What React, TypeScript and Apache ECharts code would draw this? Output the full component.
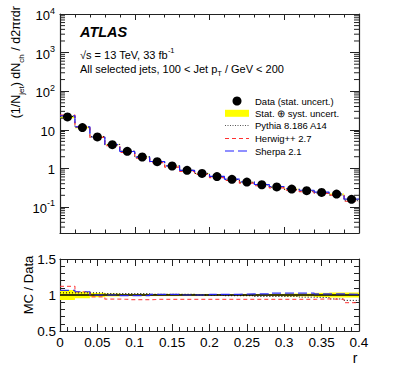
import React, { useEffect, useRef } from "react";
import * as echarts from "echarts";

// ---------- data ----------
const binEdges = [0, 0.02, 0.04, 0.06, 0.08, 0.1, 0.12, 0.14, 0.16, 0.18, 0.2, 0.22, 0.24, 0.26, 0.28, 0.3, 0.32, 0.34, 0.36, 0.38, 0.4];
const dataValues = [21.5, 11.4, 6.5, 4.1, 2.76, 1.97, 1.49, 1.15, 0.89, 0.74, 0.61, 0.52, 0.44, 0.376, 0.33, 0.29, 0.263, 0.238, 0.215, 0.157];
const bandHalfWidth = [0.07, 0.045, 0.03, 0.02, 0.015, 0.015, 0.015, 0.015, 0.015, 0.015, 0.01, 0.01, 0.015, 0.015, 0.015, 0.02, 0.02, 0.03, 0.035, 0.035];
const pythiaRatio = [1.03, 1.03, 1.03, 1.02, 1.02, 1.02, 1.01, 1.01, 1.01, 1.0, 1.0, 0.99, 0.99, 0.98, 0.98, 0.98, 0.97, 0.965, 0.945, 0.925];
const herwigRatio = [1.12, 1.045, 0.975, 0.944, 0.935, 0.935, 0.94, 0.94, 0.94, 0.94, 0.94, 0.94, 0.94, 0.94, 0.94, 0.94, 0.94, 0.945, 0.94, 0.895];
const sherpaRatio = [1.065, 1.045, 1.0, 1.0, 0.99, 0.99, 1.01, 1.01, 1.0, 1.0, 1.01, 1.01, 1.015, 1.015, 1.025, 1.025, 1.028, 1.015, 1.015, 1.01];
const logMinorMultipliers = [2, 3, 4, 5, 6, 7, 8, 9];
const logDecades = [-2, -1, 0, 1, 2, 3];
const xLabels = ["0", "0.05", "0.1", "0.15", "0.2", "0.25", "0.3", "0.35", "0.4"];

const FONT = "Liberation Sans, Arial, Helvetica, sans-serif";
const Y_MIN = 0.0211;
const Y_MAX = 10000;

const centers = dataValues.map((_, i) => (binEdges[i] + binEdges[i + 1]) / 2);

function stepData(vals: number[]) {
  const out: number[][] = [];
  vals.forEach((v, i) => {
    out.push([binEdges[i], v]);
    out.push([binEdges[i + 1], v]);
  });
  return out;
}

const mcTop = (ratio: number[]) => dataValues.map((d, i) => d * ratio[i]);

export default function App() {
  const ref = useRef<HTMLDivElement>(null);
  useEffect(() => {
    if (!ref.current) return;
    const chart = echarts.init(ref.current, undefined, { renderer: "svg" });

    const minorTickVals: number[] = [];
    logDecades.forEach((d) =>
      logMinorMultipliers.forEach((m) => {
        const v = m * Math.pow(10, d);
        if (v > Y_MIN && v < Y_MAX) minorTickVals.push(v);
      })
    );

    const axisLineStyle = { color: "#222", width: 1.2 };
    const tickStyle = { color: "#222", width: 1 };

    const xCommon = (gridIndex: number, position: string, interval: number, showLabel: boolean, majorLen: number, minorLen: number) => ({
      type: "value",
      gridIndex,
      position,
      min: 0,
      max: 0.4,
      interval,
      axisLine: { show: true, onZero: false, lineStyle: axisLineStyle },
      axisTick: { show: true, inside: true, length: majorLen, lineStyle: tickStyle },
      minorTick: { show: true, splitNumber: 5, length: minorLen, lineStyle: tickStyle },
      splitLine: { show: false },
      axisLabel: {
        show: showLabel,
        fontFamily: FONT,
        fontSize: 13.5,
        color: "#000",
        margin: 4,
        formatter: (v: number) => {
          const idx = Math.round(v / 0.05);
          return xLabels[idx] ?? String(v);
        },
      },
    });

    const logLabel = (v: number) => {
      const e = Math.round(Math.log10(v));
      if (e === 0) return "{b|1}";
      if (e === 1) return "{b|10}";
      return `{b|10}{s|${e}}`;
    };

    const yTop = (position: string, showLabel: boolean) => ({
      type: "log",
      logBase: 10,
      gridIndex: 0,
      position,
      min: Y_MIN,
      max: Y_MAX,
      axisLine: { show: true, onZero: false, lineStyle: axisLineStyle },
      axisTick: { show: true, inside: true, length: 9, lineStyle: tickStyle },
      splitLine: { show: false },
      axisLabel: {
        show: showLabel,
        showMinLabel: false,
        showMaxLabel: true,
        margin: 5,
        formatter: logLabel,
        rich: {
          b: { fontFamily: FONT, fontSize: 13, color: "#000", lineHeight: 16, verticalAlign: "bottom" },
          s: { fontFamily: FONT, fontSize: 9, color: "#000", lineHeight: 16, verticalAlign: "top", padding: [0, 0, 6, 0] },
        },
      },
    });

    const yBottom = (position: string, showLabel: boolean) => ({
      type: "value",
      gridIndex: 1,
      position,
      min: 0.5,
      max: 1.5,
      interval: 0.5,
      axisLine: { show: true, onZero: false, lineStyle: axisLineStyle },
      axisTick: { show: true, inside: true, length: 9, lineStyle: tickStyle },
      minorTick: { show: true, splitNumber: 5, length: 5, lineStyle: tickStyle },
      splitLine: { show: false },
      axisLabel: { show: showLabel, fontFamily: FONT, fontSize: 13.5, color: "#000", margin: 4 },
    });

    const bandRender = (gridTop: boolean) => (params: any, api: any) => {
      const i = params.dataIndex;
      const lo = binEdges[i];
      const hi = binEdges[i + 1];
      const c = gridTop ? dataValues[i] : 1;
      const p1 = api.coord([lo, c * (1 + bandHalfWidth[i])]);
      const p2 = api.coord([hi, c * (1 - bandHalfWidth[i])]);
      return {
        type: "rect",
        shape: { x: p1[0], y: p1[1], width: p2[0] - p1[0], height: p2[1] - p1[1] },
        style: { fill: "#ffff00" },
      };
    };

    const lineSeries = (name: string, data: number[][], color: string, dash: number[] | string, xi: number, yi: number, width = 1.2, opacity = 1) => ({
      type: "line",
      name,
      xAxisIndex: xi,
      yAxisIndex: yi,
      data,
      symbol: "none",
      lineStyle: { color, width, type: dash, opacity },
      z: 4,
    });

    const legendX1 = 225;
    const legendX2 = 249;
    const legendTextX = 255;
    const rows = [101, 113.3, 125.5, 138.5, 151];
    const legendText = (y: number, t: string) => ({
      type: "text",
      x: legendTextX,
      y,
      style: { text: t, fontFamily: FONT, fontSize: 9.5, fill: "#000", verticalAlign: "middle", align: "left" },
    });
    const legendLine = (y: number, color: string, dash: number[], w = 1.2) => ({
      type: "line",
      shape: { x1: legendX1, y1: y, x2: legendX2, y2: y },
      style: { stroke: color, lineWidth: w, lineDash: dash },
    });

    const option: any = {
      animation: false,
      backgroundColor: "#fff",
      grid: [
        { left: 60, top: 14, width: 299, height: 219 },
        { left: 60, top: 259, width: 299, height: 72 },
      ],
      xAxis: [
        xCommon(0, "bottom", 0.1, false, 6, 3.5),
        xCommon(0, "top", 0.1, false, 6, 3.5),
        xCommon(1, "bottom", 0.05, true, 7, 4),
        xCommon(1, "top", 0.05, false, 7, 4),
      ],
      yAxis: [yTop("left", true), yTop("right", false), yBottom("left", true), yBottom("right", false)],
      series: [
        {
          type: "custom",
          xAxisIndex: 0,
          yAxisIndex: 0,
          data: dataValues.map((_, i) => i),
          renderItem: bandRender(true),
          z: 2,
          silent: true,
        },
        {
          type: "custom",
          xAxisIndex: 0,
          yAxisIndex: 0,
          data: minorTickVals,
          clip: false,
          renderItem: (params: any, api: any) => {
            const v = minorTickVals[params.dataIndex];
            const l = api.coord([0, v]);
            const r = api.coord([0.4, v]);
            return {
              type: "group",
              children: [
                { type: "line", shape: { x1: l[0], y1: l[1], x2: l[0] + 5, y2: l[1] }, style: { stroke: "#222", lineWidth: 1 } },
                { type: "line", shape: { x1: r[0] - 5, y1: r[1], x2: r[0], y2: r[1] }, style: { stroke: "#222", lineWidth: 1 } },
              ],
            };
          },
          z: 10,
          silent: true,
        },
        lineSeries("Pythia 8.186 A14", stepData(mcTop(pythiaRatio)), "#000", [1, 2], 0, 0, 1),
        lineSeries("Herwig++ 2.7", stepData(mcTop(herwigRatio)), "#ff3030", [4, 3], 0, 0),
        lineSeries("Sherpa 2.1", stepData(mcTop(sherpaRatio)), "#2020ff", [9, 4], 0, 0),
        {
          type: "scatter",
          name: "Data",
          xAxisIndex: 0,
          yAxisIndex: 0,
          data: dataValues.map((v, i) => [centers[i], v]),
          symbol: "circle",
          symbolSize: 9,
          itemStyle: { color: "#000", opacity: 1 },
          z: 6,
        },
        // ratio panel
        {
          type: "custom",
          xAxisIndex: 2,
          yAxisIndex: 2,
          data: dataValues.map((_, i) => i),
          renderItem: bandRender(false),
          z: 2,
          silent: true,
        },
        lineSeries("ref", [[0, 1], [0.4, 1]], "#000", "solid", 2, 2, 1.5),
        lineSeries("Pythia r", stepData(pythiaRatio), "#000", [1, 2], 2, 2, 1),
        lineSeries("Herwig r", stepData(herwigRatio), "#ff3030", [4, 3], 2, 2, 1.2, 0.8),
        lineSeries("Sherpa r", stepData(sherpaRatio), "#2020ff", [9, 4], 2, 2, 1.2, 0.9),
      ],
      graphic: [
        {
          type: "text",
          x: 80,
          y: 32,
          style: { text: "ATLAS", fontFamily: FONT, fontSize: 14.5, fontWeight: "bold", fontStyle: "italic", fill: "#000", verticalAlign: "middle" },
        },
        {
          type: "text",
          x: 80,
          y: 53,
          style: {
            text: "{n|√s = 13 TeV, 33 fb}{s|-1}",
            verticalAlign: "middle",
            rich: {
              n: { fontFamily: FONT, fontSize: 11, fill: "#000", lineHeight: 14, verticalAlign: "bottom" },
              s: { fontFamily: FONT, fontSize: 7.5, fill: "#000", lineHeight: 14, verticalAlign: "top", padding: [0, 0, 5, 0] },
            },
          },
        },
        {
          type: "text",
          x: 80,
          y: 70,
          style: {
            text: "{n|All selected jets, 100 < Jet p}{t|T}{n| / GeV < 200}",
            verticalAlign: "middle",
            rich: {
              n: { fontFamily: FONT, fontSize: 11, fill: "#000", lineHeight: 14, verticalAlign: "top" },
              t: { fontFamily: FONT, fontSize: 7.5, fill: "#000", lineHeight: 14, verticalAlign: "bottom", padding: [6, 0, 0, 0] },
            },
          },
        },
        {
          type: "text",
          x: 17,
          y: 6,
          rotation: Math.PI / 2,
          style: {
            text: "{n|(1/N}{t|jet}{n|) dN}{t|ch}{n| / d2πrdr}",
            align: "right",
            verticalAlign: "middle",
            rich: {
              n: { fontFamily: FONT, fontSize: 12.5, fill: "#000", lineHeight: 16, verticalAlign: "top" },
              t: { fontFamily: FONT, fontSize: 8, fill: "#000", lineHeight: 16, verticalAlign: "bottom", padding: [7, 0, 0, 0] },
            },
          },
        },
        {
          type: "text",
          x: 28,
          y: 285,
          rotation: Math.PI / 2,
          style: { text: "MC / Data", fontFamily: FONT, fontSize: 13, fill: "#000", align: "center", verticalAlign: "middle" },
        },
        {
          type: "text",
          x: 355,
          y: 358,
          style: { text: "r", fontFamily: FONT, fontSize: 14, fill: "#000", align: "center", verticalAlign: "middle" },
        },
        // legend
        { type: "circle", shape: { cx: 237, cy: rows[0], r: 4.5 }, style: { fill: "#000" } },
        legendText(rows[0], "Data (stat. uncert.)"),
        { type: "rect", shape: { x: legendX1, y: rows[1] - 3.5, width: legendX2 - legendX1, height: 7 }, style: { fill: "#ffff00" } },
        legendText(rows[1], "Stat. ⊕ syst. uncert."),
        legendLine(rows[2], "#555", [1, 1.5], 1),
        legendText(rows[2], "Pythia 8.186 A14"),
        legendLine(rows[3], "#ff3030", [4, 3]),
        legendText(rows[3], "Herwig++ 2.7"),
        legendLine(rows[4], "#2020ff", [9, 4]),
        legendText(rows[4], "Sherpa 2.1"),
      ],
    };

    chart.setOption(option);
    return () => chart.dispose();
  }, []);

  return <div ref={ref} style={{ width: 399, height: 379, position: "absolute", left: 0, top: 0 }} />;
}
